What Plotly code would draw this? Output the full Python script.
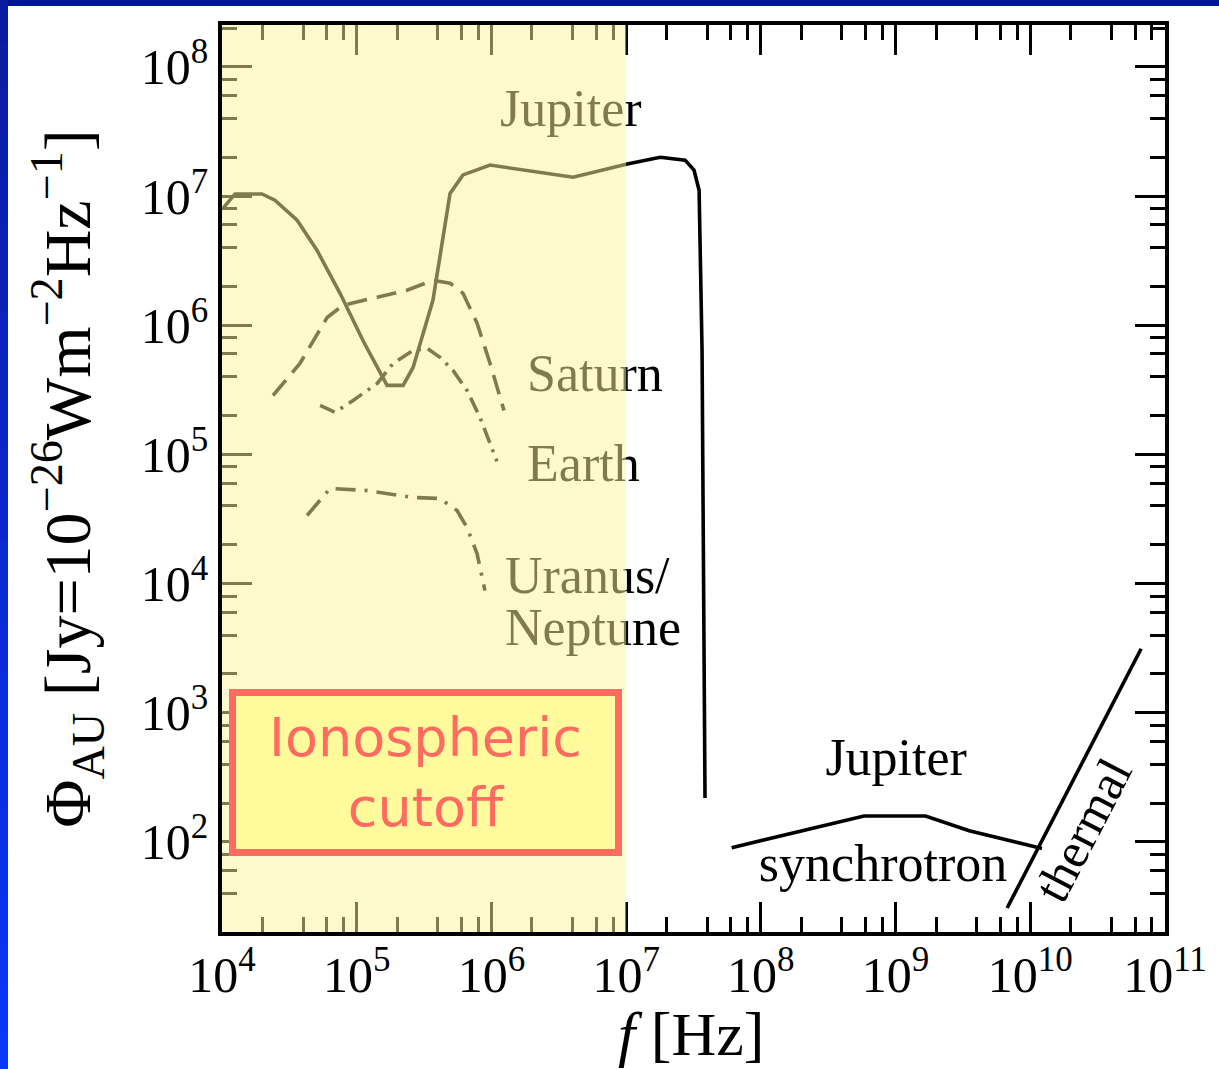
import plotly.graph_objects as go

# ---------------- data ----------------
# Jupiter decametric / hectometric emission (solid)
jup_f = [1.02e4, 1.25e4, 1.98e4, 2.47e4, 3.61e4, 5.07e4, 7.52e4, 1.11e5, 1.68e5, 2.21e5,
         2.62e5, 3.68e5, 4.93e5, 6.15e5, 9.77e5, 4.04e6, 1.02e7, 1.79e7, 2.74e7, 3.19e7,
         3.48e7, 3.66e7, 3.85e7]
jup_phi = [8.07e6, 1.04e7, 1.04e7, 9.31e6, 6.52e6, 3.81e6, 1.77e6, 7.66e5, 3.43e5, 3.43e5,
           4.72e5, 1.56e6, 1.05e7, 1.46e7, 1.74e7, 1.40e7, 1.77e7, 2.00e7, 1.90e7, 1.59e7,
           1.11e7, 6.40e5, 219]

# Saturn (dashed)
sat_f = [2.39e4, 3.79e4, 6.03e4, 7.91e4, 1.42e5, 2.36e5, 3.68e5, 4.93e5, 6.15e5, 7.82e5,
         9.77e5, 1.24e6]
sat_phi = [2.86e5, 5.07e5, 1.15e6, 1.43e6, 1.65e6, 1.87e6, 2.23e6, 2.12e6, 1.77e6, 1.04e6,
           5.07e5, 2.19e5]

# Earth (dash-dot)
earth_f = [5.35e4, 6.90e4, 9.40e4, 1.42e5, 1.86e5, 2.62e5, 3.33e5, 4.15e5, 5.19e5, 6.59e5,
           8.22e5, 1.10e6]
earth_phi = [2.40e5, 2.12e5, 2.62e5, 3.55e5, 5.07e5, 6.40e5, 6.64e5, 5.65e5, 4.48e5, 3.13e5,
             1.94e5, 8.83e4]

# Uranus / Neptune (dash-dot)
un_f = [4.28e4, 6.34e4, 1.19e5, 2.62e5, 4.15e5, 5.56e5, 6.59e5, 7.82e5, 8.95e5]
un_phi = [3.37e4, 5.45e4, 5.26e4, 4.65e4, 4.56e4, 3.68e4, 2.72e4, 1.71e4, 8.83e3]

# Jupiter synchrotron
syn_f = [6.07e7, 5.83e8, 1.67e9, 3.52e9, 1.22e10]
syn_phi = [90.4, 159, 159, 122, 89]

# Jupiter thermal
th_f = [6.73e9, 6.65e10]
th_phi = [30.8, 3133]

# ionospheric cutoff band
cutoff_f = [1e4, 1e7]

# curve labels (partly under the cutoff band)
lab_text = ["Jupiter", "Saturn", "Earth", "Uranus/", "Neptune"]
lab_f = [1.16e6, 1.84e6, 1.84e6, 1.26e6, 1.26e6]
lab_phi = [4.41e7, 3.90e5, 7.83e4, 1.06e4, 4.21e3]

lab2_text = ["Jupiter", "synchrotron"]
lab2_f = [1.01e9, 8.07e8]
lab2_phi = [414, 62.4]

# axis ticks
x_tickvals = [1e4, 1e5, 1e6, 1e7, 1e8, 1e9, 1e10, 1e11]
x_ticktext = ["10<sup>4</sup>", "10<sup>5</sup>", "10<sup>6</sup>", "10<sup>7</sup>",
              "10<sup>8</sup>", "10<sup>9</sup>", "10<sup>10</sup>", "10<sup>11</sup>"]
y_tickvals = [1e2, 1e3, 1e4, 1e5, 1e6, 1e7, 1e8]
y_ticktext = ["10<sup>2</sup>", "10<sup>3</sup>", "10<sup>4</sup>", "10<sup>5</sup>",
              "10<sup>6</sup>", "10<sup>7</sup>", "10<sup>8</sup>"]
minor_mult = [2, 4, 6, 8]

# ---------------- figure ----------------
SERIF = "Liberation Serif"
LW = 3.6
fig = go.Figure()

def add_line(x, y, dash):
    fig.add_trace(go.Scatter(x=x, y=y, mode="lines",
                             line=dict(color="black", width=LW, dash=dash),
                             hoverinfo="skip", showlegend=False))

add_line(jup_f, jup_phi, "solid")
add_line(sat_f, sat_phi, "20px,10px")
add_line(earth_f, earth_phi, "16px,7px,3px,7px")
add_line(un_f, un_phi, "20px,9px,3px,9px")
add_line(syn_f, syn_phi, "solid")
add_line(th_f, th_phi, "solid")

fig.add_trace(go.Scatter(x=lab_f, y=lab_phi, text=lab_text, mode="text",
                         textposition="middle right",
                         textfont=dict(family=SERIF, size=52, color="black"),
                         hoverinfo="skip", showlegend=False))
fig.add_trace(go.Scatter(x=lab2_f, y=lab2_phi, text=lab2_text, mode="text",
                         textposition="middle center",
                         textfont=dict(family=SERIF, size=52, color="black"),
                         hoverinfo="skip", showlegend=False))

minor_x = [m * 10 ** k for k in range(4, 11) for m in minor_mult]
minor_y = [m * 10 ** k for k in range(1, 9) for m in minor_mult]

axis_common = dict(
    type="log", showgrid=False, zeroline=False,
    showline=True, linecolor="black", linewidth=3.5, mirror="ticks",
    ticks="inside", ticklen=30, tickwidth=3, tickcolor="black",
    tickfont=dict(family=SERIF, size=50, color="black"),
)

fig.update_xaxes(
    **axis_common, range=[4, 11], tickmode="array",
    tickvals=x_tickvals, ticktext=x_ticktext, ticklabelstandoff=-4,
    minor=dict(tickmode="array", tickvals=minor_x, ticks="inside", ticklen=15,
               tickwidth=3, tickcolor="black", showgrid=False),
)
fig.update_yaxes(
    **axis_common, range=[1.303, 8.325], tickmode="array",
    tickvals=y_tickvals, ticktext=y_ticktext,
    minor=dict(tickmode="array", tickvals=minor_y, ticks="inside", ticklen=15,
               tickwidth=3, tickcolor="black", showgrid=False),
    title=dict(text="Φ<sub>AU</sub> [Jy=10<sup>−26</sup>Wm<sup>−2</sup>Hz<sup>−1</sup>]",
               font=dict(family=SERIF, size=66, color="black"), standoff=30),
)

shapes = [
    # ionospheric cutoff band: translucent yellow over curves and labels
    dict(type="rect", xref="x", yref="paper", x0=cutoff_f[0], x1=cutoff_f[1], y0=0, y1=1,
         fillcolor="rgb(254,244,158)", opacity=0.5, line=dict(width=0), layer="above"),
    # slide frame: top navy band
    dict(type="rect", xref="paper", yref="paper", ysizemode="pixel", yanchor=1,
         x0=-1, x1=2, y0=19, y1=80, fillcolor="#00168e", line=dict(width=0), layer="above"),
]
# slide frame: left blue band (smooth dark-to-bright gradient downward)
n_seg = 24
c_top = (10, 26, 160)
c_bot = (10, 54, 250)
for i in range(n_seg):
    t = i / (n_seg - 1)
    col = "rgb(%d,%d,%d)" % tuple(round(a + (b - a) * t) for a, b in zip(c_top, c_bot))
    y_hi = 1.03 - i * (1.03 + 0.16) / n_seg
    y_lo = 1.03 - (i + 1) * (1.03 + 0.16) / n_seg - 0.002
    shapes.append(dict(type="rect", xref="paper", yref="paper", xsizemode="pixel", xanchor=0,
                       x0=-230, x1=-214, y0=y_lo, y1=y_hi,
                       fillcolor=col, line=dict(width=0), layer="above"))

fig.update_layout(
    width=1219, height=1069,
    margin=dict(l=222, r=54, t=25, b=137),
    paper_bgcolor="white", plot_bgcolor="white",
    shapes=shapes,
    annotations=[
        dict(text="Ionospheric<br>cutoff", xref="x", yref="y", x=5.514, y=2.535,
             showarrow=False, font=dict(family="DejaVu Sans", size=54, color="#ff6b61"),
             bgcolor="#fffb9c", bordercolor="#ff6b61", borderwidth=7, borderpad=0,
             width=379, height=153, align="center", valign="middle"),
        dict(text="thermal", xref="x", yref="y", x=10.392, y=2.09, showarrow=False,
             textangle=-62.6, font=dict(family=SERIF, size=50, color="black")),
        # x-axis title
        dict(text="<i>f</i> [Hz]", xref="paper", yref="paper", x=0.497, y=0,
             xanchor="center", yanchor="top", yshift=-66, showarrow=False,
             font=dict(family=SERIF, size=62, color="black")),
    ],
)

fig.write_html("out.html")
